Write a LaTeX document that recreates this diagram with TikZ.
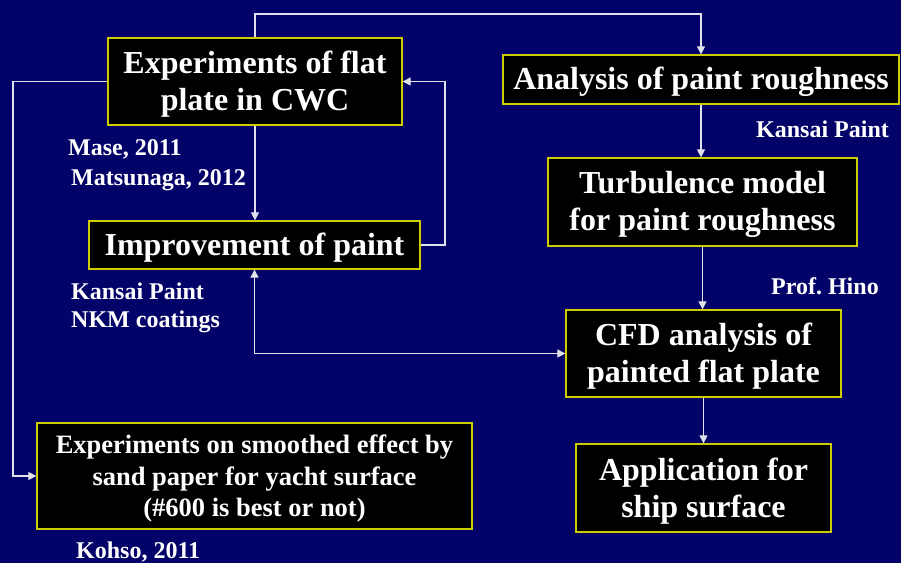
\documentclass[tikz,border=0pt]{standalone}
\usepackage{fontspec}
\setmainfont{Liberation Serif}
\usetikzlibrary{arrows.meta}
\definecolor{navy}{RGB}{2,2,104}
\definecolor{bord}{RGB}{204,204,0}
\definecolor{linec}{RGB}{225,225,235}
\newcommand\tstrut{\rule{0pt}{28pt}}
\newcommand\sstrut{\rule{0pt}{24pt}}
\tikzset{
  box/.style={draw=bord, line width=1.3pt, fill=black, text=white, align=center, inner sep=0pt,
    font=\fontsize{32}{37}\selectfont\bfseries},
  smallbox/.style={box, font=\fontsize{26.5}{31.5}\selectfont\bfseries},
  lab/.style={text=white, inner sep=0pt, anchor=base west, font=\fontsize{24}{28}\selectfont\bfseries},
  conn/.style={draw=linec, line width=1.2pt},
  arr/.style={conn, -{Triangle[width=8pt,length=8pt]}},
  darr/.style={conn, {Triangle[width=8pt,length=8pt]}-{Triangle[width=8pt,length=8pt]}}
}
\begin{document}
\begin{tikzpicture}[x=1pt,y=-1pt]
\fill[navy] (0,0) rectangle (901,563);
\useasboundingbox (0,0) rectangle (901,563);

\node[box, minimum width=294pt, minimum height=87pt] (A) at (255,81.5) {\tstrut Experiments of flat\\plate in CWC};
\node[box, minimum width=331pt, minimum height=48pt] (B) at (254.5,245) {\tstrut Improvement of paint};
\node[box, minimum width=396pt, minimum height=49pt] (C) at (701,79.5) {\tstrut Analysis of paint roughness};
\node[box, minimum width=309pt, minimum height=88pt] (D) at (702.5,202) {\tstrut Turbulence model\\for paint roughness};
\node[box, minimum width=275pt, minimum height=87pt] (E) at (703.5,353.5) {\tstrut CFD analysis of\\painted flat plate};
\node[box, minimum width=255pt, minimum height=88pt] (F) at (703.5,488) {\tstrut Application for\\ship surface};
\node[smallbox, minimum width=435pt, minimum height=106pt] (G) at (254.5,476) {\sstrut Experiments on smoothed effect by\\sand paper for yacht surface\\(\#600 is best or not)};

\node[lab] (l1) at (68,155) {Mase, 2011};
\node[lab] (l2) at (71,185) {Matsunaga, 2012};
\node[lab] (l3) at (756,137) {Kansai Paint};
\node[lab] (l4) at (771,294) {Prof.\ Hino};
\node[lab] (l5) at (71,299) {Kansai Paint};
\node[lab] (l6) at (71,327) {NKM coatings};
\node[lab] (l7) at (76,558) {Kohso, 2011};

\coordinate (top) at (255,14);
\coordinate (lft) at (13,81.5);
\coordinate (rgt) at (445,245);

\draw[arr] (A.north) -- (top) -| (C.north);
\draw[arr] (A.west) -- (lft) |- (G.west);
\draw[arr] (A.south) -- (A.south |- B.north);
\draw[arr] (B.east) -- (rgt) |- (A.east);
\draw[darr] (B.south) |- (E.west);
\draw[arr] (C.south) -- (C.south |- D.north);
\draw[arr] (D.south) -- (D.south |- E.north);
\draw[arr] (E.south) -- (E.south |- F.north);
\end{tikzpicture}
\end{document}
